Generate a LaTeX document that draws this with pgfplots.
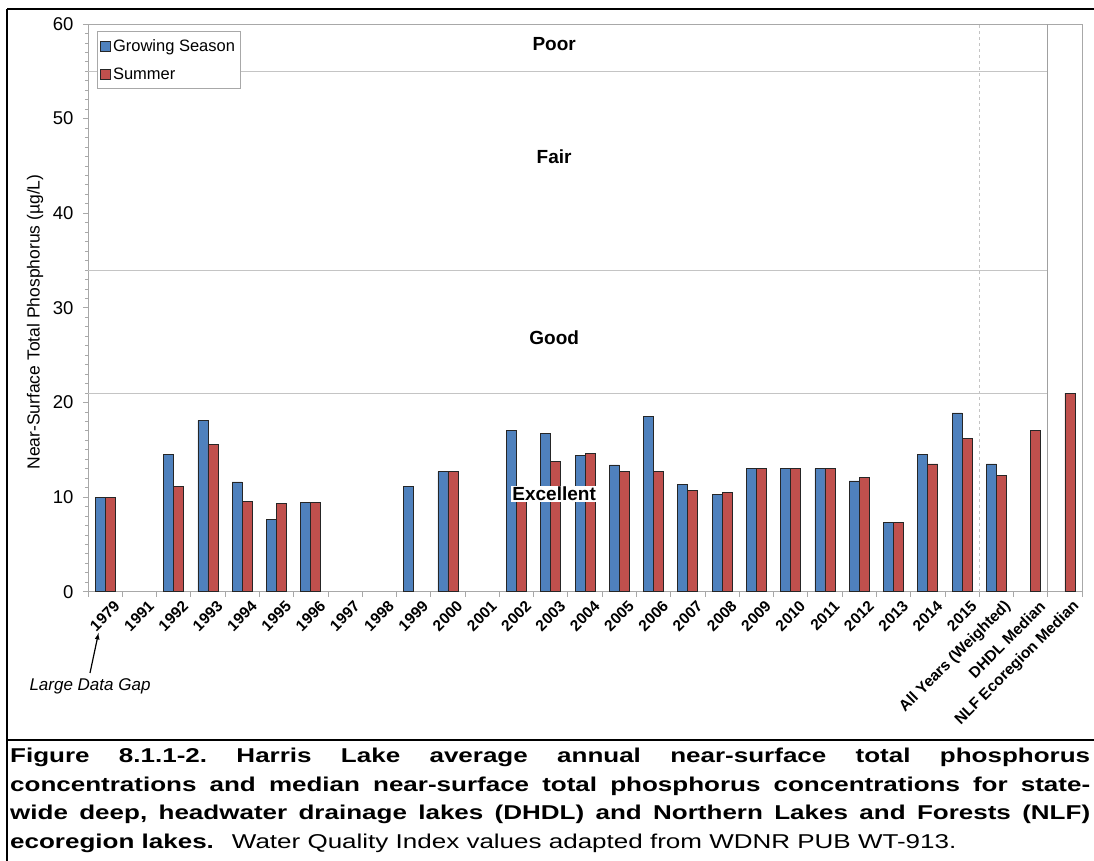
\documentclass[border=0pt]{standalone}
\usepackage{pgfplots}
\pgfplotsset{compat=1.18}
\usepackage{fontspec}
\setmainfont{Liberation Sans}
\newfontfamily\capfont[FakeStretch=1.3]{Liberation Sans}
\definecolor{gsblue}{HTML}{4F81BD}
\definecolor{sured}{HTML}{C0504D}
\definecolor{gridgray}{HTML}{C4C4C4}
\definecolor{axgray}{HTML}{A8A8A8}
\definecolor{sepgray}{HTML}{A0A0A0}
\pgfplotsset{sqlegend/.style={legend image code/.code={\draw[##1] (0pt,-5pt) rectangle (10pt,5pt);}}}

\pgfplotstableread{
x y
0 10.0
2 14.5
3 18.1
4 11.6
5 7.6
6 9.4
9 11.1
10 12.7
12 17.0
13 16.7
14 14.4
15 13.4
16 18.5
17 11.3
18 10.3
19 13.0
20 13.0
21 13.0
22 11.7
23 7.3
24 14.5
25 18.9
26 13.5
}\growing

\pgfplotstableread{
x y
0 10.0
2 11.1
3 15.6
4 9.5
5 9.3
6 9.4
10 12.7
12 10.0
13 13.8
14 14.6
15 12.7
16 12.7
17 10.7
18 10.5
19 13.0
20 13.0
21 13.0
22 12.1
23 7.3
24 13.5
25 16.2
26 12.3
27 17.0
28 21.0
}\summer

\begin{document}
\begin{tikzpicture}[x=1pt,y=1pt]
\useasboundingbox (0,0) rectangle (1094,861);
\draw[line width=2pt] (7,852) -- (1094,852);
\draw[line width=2pt] (7,852) -- (7,0);
\draw[line width=2pt] (7,121) -- (1094,121);

\begin{axis}[
  at={(88pt,269.3pt)}, anchor=south west,
  width=994pt, height=567.7pt, scale only axis,
  xmin=-0.5, xmax=28.5, ymin=0, ymax=60,
  ybar=0pt, bar width=10pt,
  axis line style={axgray, line width=0.9pt},
  tick style={axgray, line width=0.8pt},
  tick align=outside,
  major tick length=5pt, minor tick length=3pt,
  xtick pos=bottom, ytick pos=left,
  ytick={0,10,...,60}, minor y tick num=9,
  /pgf/number format/assume math mode=true,
  yticklabel style={font=\fontsize{18.5}{20}\selectfont, xshift=-6pt},
  xtick={-0.5,0.5,...,28.5},
  xticklabel={\relax},
  extra x ticks={0,...,28},
  extra x tick labels={1979,1991,1992,1993,1994,1995,1996,1997,1998,1999,2000,2001,2002,2003,2004,2005,2006,2007,2008,2009,2010,2011,2012,2013,2014,2015,All Years (Weighted),DHDL Median,NLF Ecoregion Median},
  extra x tick style={major tick length=0pt, tick style={draw=none},
    xticklabel style={font=\bfseries\fontsize{15.5}{18}\selectfont, rotate=45, anchor=east, inner sep=0pt, yshift=-17pt, xshift=0pt}},
  ylabel={Near-Surface Total Phosphorus (µg/L)},
  every axis y label/.style={at={(axis description cs:-0.0533,0.475)}, rotate=90, anchor=center, font=\fontsize{17.5}{20}\selectfont},
  legend style={at={(axis description cs:0.009,0.9877)}, anchor=north west, draw=axgray, line width=0.8pt,
    font=\fontsize{16.5}{18}\selectfont, row sep=11pt, inner xsep=3pt, inner ysep=6pt},
  legend cell align=left,
  clip=false,
]
\draw[gridgray, line width=1pt] (axis cs:-0.5,21) -- (axis cs:27.5,21);
\draw[gridgray, line width=1pt] (axis cs:-0.5,34) -- (axis cs:27.5,34);
\draw[gridgray, line width=1pt] (axis cs:-0.5,55) -- (axis cs:27.5,55);
\draw[gridgray, line width=1pt, dash pattern=on 3pt off 3pt] (axis cs:25.5,0) -- (axis cs:25.5,60);
\draw[sepgray, line width=1pt] (axis cs:27.5,0) -- (axis cs:27.5,60);

\addplot[fill=gsblue, draw=black!85, line width=0.7pt, sqlegend] table[x=x,y=y] {\growing};
\addlegendentry{Growing Season}
\addplot[fill=sured, draw=black!85, line width=0.7pt, sqlegend] table[x=x,y=y] {\summer};
\addlegendentry{Summer}

\node[font=\bfseries\fontsize{19}{22}\selectfont] at (axis cs:13.1,57.85) {Poor};
\node[font=\bfseries\fontsize{19}{22}\selectfont] at (axis cs:13.1,45.95) {Fair};
\node[font=\bfseries\fontsize{19}{22}\selectfont] at (axis cs:13.1,26.85) {Good};
\node[font=\bfseries\fontsize{19}{22}\selectfont, fill=white, inner sep=1pt] at (axis cs:13.1,10.34) {Excellent};
\end{axis}

\node[font=\itshape\fontsize{17}{20}\selectfont] at (90,175) {Large Data Gap};
\draw[-latex, line width=1.2pt] (90,188) -- (98.5,228);

\node[anchor=north west, inner sep=0pt, text width=1080pt, align=justify] at (10,113)
{\capfont\fontsize{20}{28.5}\selectfont\bfseries\frenchspacing\tolerance=10000\hbadness=10000\hyphenpenalty=10000\exhyphenpenalty=10000
Figure 8.1.1-2. Harris Lake average annual near-surface total phosphorus\linebreak
concentrations and median near-surface total phosphorus concentrations for state-\linebreak
wide deep, headwater drainage lakes (DHDL) and Northern Lakes and Forests (NLF)\linebreak
ecoregion lakes.\hspace*{0.9em}{\mdseries Water Quality Index values adapted from WDNR PUB WT-913.}\par};
\end{tikzpicture}
\end{document}
